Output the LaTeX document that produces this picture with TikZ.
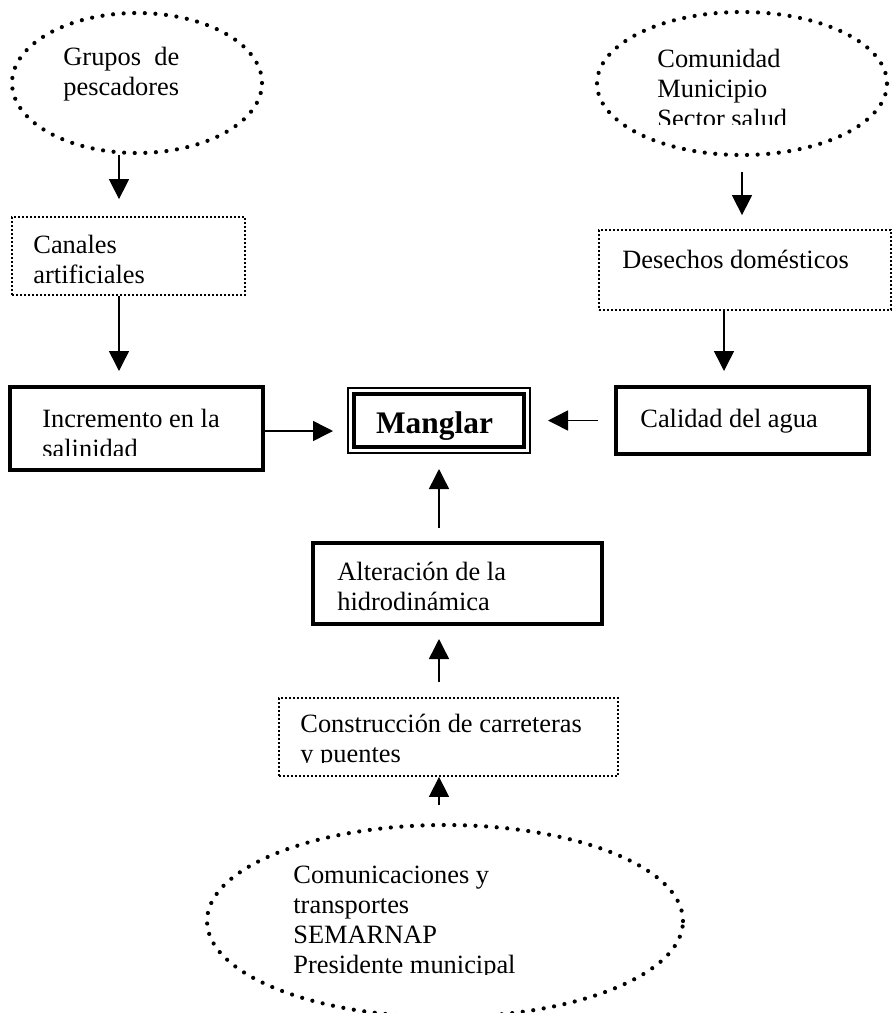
\documentclass[tikz,border=0pt]{standalone}
\usepackage{fontspec}
\setmainfont{Liberation Serif}
\usetikzlibrary{arrows.meta,shapes.geometric}

\begin{document}
\begin{tikzpicture}[
  x=0.5pt,y=-0.5pt,
  font=\fontsize{13.2}{15}\selectfont,
  thickbox/.style={draw,line width=2pt,inner sep=0pt},
  dotbox/.style={draw,line width=0.9pt,dash pattern=on 0.9pt off 1.1pt,inner sep=0pt},
  dotell/.style={ellipse,draw,line width=2.1pt,line cap=round,dash pattern=on 0pt off 5.3pt,inner sep=0pt},
  txt/.style={anchor=base west,inner sep=0pt,align=left},
  arr/.style={-{Triangle[length=10pt,width=10pt]},line width=0.75pt}
]
\useasboundingbox (0,0) rectangle (893,1013);
\node[dotell,minimum width=125pt,minimum height=70pt] (grupos) at (137,83) {};
\node[dotell,minimum width=145pt,minimum height=71.5pt] (comunidad) at (742,83.5) {};
\node[dotell,minimum width=238pt,minimum height=96pt] (comunicaciones) at (445,921) {};
\node[dotbox,minimum width=116.5pt,minimum height=39pt] (canales) at (128.5,256) {};
\node[dotbox,minimum width=146pt,minimum height=40pt] (desechos) at (745,270) {};
\node[dotbox,minimum width=169.5pt,minimum height=39pt] (construccion) at (448.5,737) {};
\node[thickbox,minimum width=126.5pt,minimum height=41.5pt] (incremento) at (136.5,428.5) {};
\node[thickbox,minimum width=126.5pt,minimum height=33.5pt] (calidad) at (742.5,420.5) {};
\node[thickbox,minimum width=144.5pt,minimum height=40.5pt] (alteracion) at (457.5,583.5) {};
\node[draw,line width=1pt,inner sep=0pt,minimum width=91pt,minimum height=32.5pt] (manglar) at (439,420.5) {};
\draw[line width=1.6pt] ([shift={(3.5pt,3.5pt)}]manglar.south west) rectangle ([shift={(-3.5pt,-3.5pt)}]manglar.north east);

\node[txt] (t-grupos) at (63,95) {Grupos\ \ de\\pescadores};
\begin{scope}
\clip (600,12) rectangle (887,124);
\node[txt] (t-comunidad) at (657,127) {Comunidad\\Municipio\\Sector salud};
\end{scope}
\node[txt] (t-canales) at (33,283) {Canales\\artificiales};
\node[txt] (t-desechos) at (622,268) {Desechos domésticos};
\begin{scope}
\clip (12,389) rectangle (261,455);
\node[txt] (t-incremento) at (42,457) {Incremento en la\\salinidad};
\end{scope}
\node[inner sep=0pt,anchor=base,font=\fontsize{15.7}{18}\selectfont\bfseries] (t-manglar) at (434.5,433) {Manglar};
\node[txt] (t-calidad) at (640,427) {Calidad del agua};
\node[txt] (t-alteracion) at (337,610) {Alteración de la\\hidrodinámica};
\begin{scope}
\clip (281,700) rectangle (616,762);
\node[txt] (t-construccion) at (300,762) {Construcción de carreteras\\y puentes};
\end{scope}
\begin{scope}
\clip (210,830) rectangle (680,974);
\node[txt] (t-comunicaciones) at (293,973) {Comunicaciones y\\transportes\\SEMARNAP\\Presidente municipal};
\end{scope}

\draw[arr,shorten >=8.5pt] ([xshift=-9pt]grupos.south) -- ([xshift=-4.75pt]canales.north);
\draw[arr,shorten >=7pt] ([xshift=-4.75pt]canales.south) -- ([xshift=-8.75pt]incremento.north);
\draw[arr,shorten <=7.5pt,shorten >=7pt] (comunidad.south) -- ([xshift=-1.5pt]desechos.north);
\draw[arr,shorten >=7pt] ([xshift=-10.5pt]desechos.south) -- ([xshift=-9.25pt]calidad.north);
\draw[arr,shorten >=7pt] ([yshift=-1.25pt]incremento.east) -- ([yshift=-5.25pt]manglar.west);
\draw[arr,shorten <=8pt,shorten >=8.5pt] (calidad.west) -- (manglar.east);
\draw[arr,shorten <=6.5pt,shorten >=7.5pt] ([xshift=-9.25pt]alteracion.north) -- (manglar.south);
\draw[arr,shorten <=7.5pt,shorten >=6.5pt] ([xshift=-4.75pt]construccion.north) -- ([xshift=-9.25pt]alteracion.south);
\draw[arr,shorten <=9pt] ([xshift=-3pt]comunicaciones.north) -- ([xshift=-4.75pt]construccion.south);
\end{tikzpicture}
\end{document}
